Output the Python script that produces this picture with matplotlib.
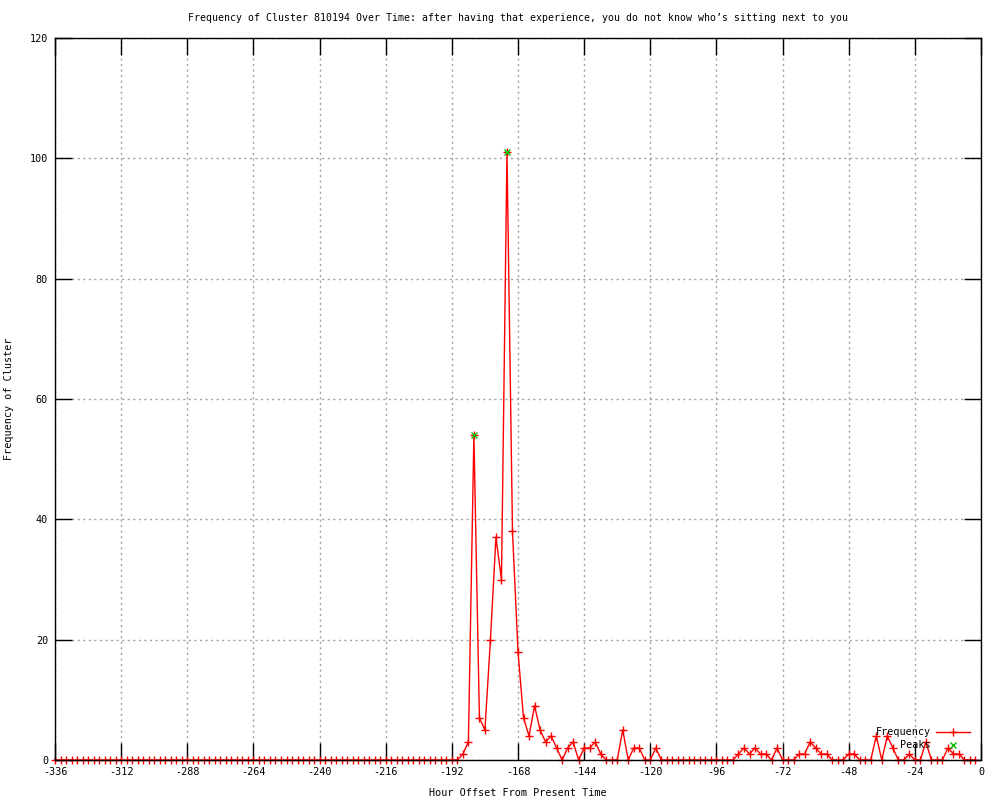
import numpy as np
import matplotlib
matplotlib.use("Agg")
import matplotlib.pyplot as plt

plt.rcParams['font.family'] = ['DejaVu Sans Mono']
plt.rcParams['axes.unicode_minus'] = False

# hour offsets, one sample every 2 hours
hours = np.arange(-336, 0, 2)

# frequency per 2-hour bin (-336 .. -2)
frequency = [
    0, 0, 0, 0, 0, 0, 0, 0, 0, 0, 0, 0, 0, 0, 0, 0, 0, 0, 0, 0,  # -336 .. -298
    0, 0, 0, 0, 0, 0, 0, 0, 0, 0, 0, 0, 0, 0, 0, 0, 0, 0, 0, 0,  # -296 .. -258
    0, 0, 0, 0, 0, 0, 0, 0, 0, 0, 0, 0, 0, 0, 0, 0, 0, 0, 0, 0,  # -256 .. -218
    0, 0, 0, 0, 0, 0, 0, 0, 0, 0, 0, 0, 0,                      # -216 .. -192
    0, 1, 3, 54, 7, 5, 20, 37, 30, 101,                          # -190 .. -172
    38, 18, 7, 4, 9, 5, 3, 4, 2, 0,                              # -170 .. -152
    2, 3, 0, 2, 2, 3, 1, 0, 0, 0,                                # -150 .. -132
    5, 0, 2, 2, 0, 0, 2, 0,                                      # -130 .. -116
    0, 0, 0, 0, 0, 0, 0, 0, 0, 0, 0, 0, 0,                      # -114 .. -90
    1, 2, 1, 2, 1, 1, 0, 2, 0, 0,                                # -88 .. -70
    0, 1, 1, 3, 2, 1, 1, 0, 0, 0,                                # -68 .. -50
    1, 1, 0, 0, 0, 4, 0, 4, 2, 0,                                # -48 .. -30
    0, 1, 0, 0, 3, 0, 0, 0, 2, 1,                                # -28 .. -10
    1, 0, 0, 0,                                                  # -8 .. -2
]

peak_hours = [-184, -172]
peak_values = [54, 101]

x_ticks = list(range(-336, 1, 24))
y_ticks = list(range(0, 121, 20))

title = ("Frequency of Cluster 810194 Over Time: after having that experience, "
         "you do not know who\u2019s sitting next to you")

fs = 7.25

fig = plt.figure(figsize=(10, 8), dpi=100)
ax = fig.add_axes([0.055, 0.05, 0.926, 0.9025])

ax.plot(hours, frequency, color='#ff0000', lw=1.0, marker='+', ms=6, mew=1.0,
        label='Frequency', clip_on=False, zorder=3)
ax.plot(peak_hours, peak_values, linestyle='none', color='#00c000', marker='x',
        ms=5, mew=1.0, label='Peaks', clip_on=False, zorder=4)

ax.set_xlim(-336, 0)
ax.set_ylim(0, 120)
ax.set_xticks(x_ticks)
ax.set_yticks(y_ticks)
ax.tick_params(direction='in', length=12, width=1.0, top=True, right=True,
               labelsize=fs, pad=5, colors='black')
ax.grid(True, color='#a0a0a0', linestyle=(0, (1.5, 2.5)), lw=1.0)
for sp in ax.spines.values():
    sp.set_linewidth(1.0)
    sp.set_zorder(5)

ax.set_title(title, fontsize=7.1, pad=12)
ax.set_xlabel("Hour Offset From Present Time", fontsize=fs, labelpad=8)
ax.set_ylabel("Frequency of Cluster", fontsize=fs, labelpad=11)

ax.legend(loc='lower right', bbox_to_anchor=(0.975, 0.056),
          bbox_transform=fig.transFigure, frameon=False, markerfirst=False,
          fontsize=fs, handlelength=3.4, handletextpad=0.5, borderpad=0,
          labelspacing=0.3, numpoints=1)

plt.savefig("out.png", dpi=100)
plt.close()
